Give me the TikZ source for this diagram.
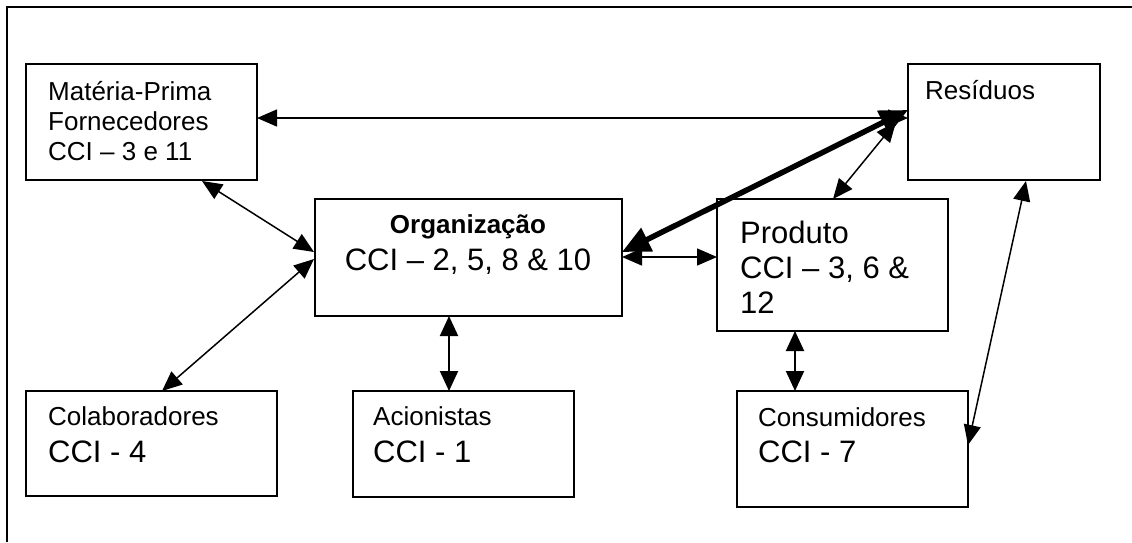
\documentclass[tikz,border=0pt]{standalone}
\usepackage{fontspec}
\setmainfont{Liberation Sans}
\usetikzlibrary{arrows.meta,calc}
\begin{document}
\begin{tikzpicture}[x=1pt,y=-1pt,
  box/.style={draw, line width=1.7pt, inner sep=0pt, outer sep=0pt, anchor=north west},
  small/.style={anchor=base west, inner sep=0pt, font=\fontsize{26}{30}\selectfont},
  big/.style={anchor=base west, inner sep=0pt, font=\fontsize{31}{35}\selectfont},
  con/.style={line width=1.5pt, {Triangle[length=20pt,width=17pt]}-{Triangle[length=20pt,width=17pt]}},
  vcon/.style={line width=2pt, {Triangle[length=20pt,width=18pt]}-{Triangle[length=20pt,width=18pt]}},
  heavy/.style={line width=5.5pt, {Triangle[length=28pt,width=25pt]}-{Triangle[length=28pt,width=25pt]}}]
\useasboundingbox (0,0) rectangle (1132,542);
% frame
\coordinate (fr) at (7,7);
\draw[line width=1.8pt] (fr |- 0,542) -- (fr) -- (fr -| 1133,0);
% boxes
\node[box, minimum width=231pt, minimum height=116pt] (mp) at (26,64) {};
\node[box, minimum width=192pt, minimum height=116pt] (res) at (908,64) {};
\node[box, minimum width=307pt, minimum height=117pt] (org) at (315,199) {};
\node[box, minimum width=231pt, minimum height=132pt] (prod) at (717,199) {};
\node[box, minimum width=251pt, minimum height=105pt] (col) at (26,391) {};
\node[box, minimum width=221pt, minimum height=106pt] (aci) at (353,391) {};
\node[box, minimum width=231pt, minimum height=116pt] (con) at (737,391) {};
% texts
\node[small] (mp1) at (48,100) {Matéria-Prima};
\node[small] (mp2) at (48,130) {Fornecedores};
\node[small] (mp3) at (48,160) {CCI – 3 e 11};
\node[small] (res1) at (925,99) {Resíduos};
\node[anchor=base, inner sep=0pt, font=\fontsize{26}{30}\selectfont\bfseries] (org1) at (468,233) {Organização};
\node[anchor=base, inner sep=0pt, font=\fontsize{31}{35}\selectfont] (org2) at (468,270) {CCI – 2, 5, 8 \& 10};
\node[big] (pr1) at (740,243) {Produto};
\node[big] (pr2) at (740,278) {CCI – 3, 6 \&};
\node[big] (pr3) at (740,313) {12};
\node[small] (col1) at (48,425) {Colaboradores};
\node[big] (col2) at (48,462) {CCI - 4};
\node[small] (aci1) at (373,425) {Acionistas};
\node[big] (aci2) at (373,462) {CCI - 1};
\node[small] (con1) at (758,426) {Consumidores};
\node[big] (con2) at (758,462) {CCI - 7};
% connectors
\draw[con] ($(mp.north east)+(0,54)$) -- ($(res.north west)+(0,54)$);
\draw[con] ($(org.north east)+(0,58)$) -- ($(prod.north west)+(0,58)$);
\draw[heavy] ($(org.north east)+(0,53)$) -- ($(res.north west)+(0,46)$);
\draw[con] ($(res.north west)+(-12,58)$) -- ($(prod.north west)+(116,0)$);
\draw[con] ($(mp.south west)+(176,1)$) -- ($(org.north west)+(-1,53)$);
\draw[con] ($(col.north west)+(136,0)$) -- ($(org.north west)+(-1,60)$);
\draw[vcon] ($(org.south west)+(134,0)$) -- ($(aci.north west)+(96,0)$);
\draw[vcon] ($(prod.south west)+(78,0)$) -- ($(con.north west)+(58,0)$);
\draw[con] ($(res.south west)+(118,1)$) -- ($(con.north east)+(0,54)$);
\end{tikzpicture}
\end{document}
